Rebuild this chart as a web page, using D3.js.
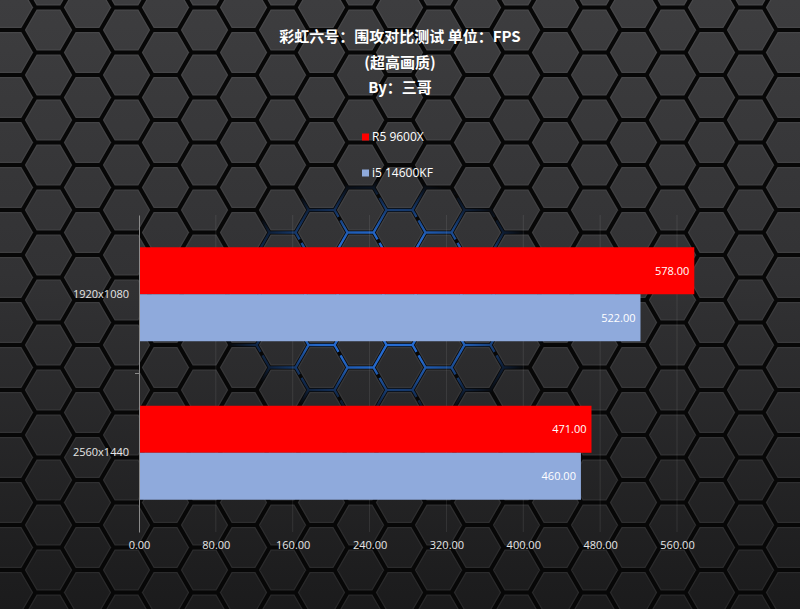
<!DOCTYPE html>
<html><head><meta charset="utf-8">
<script src="https://cdn.jsdelivr.net/npm/d3@7"></script>
<style>html,body{margin:0;padding:0;background:#222;}svg{display:block;}</style>
</head><body>
<svg id="c" width="800" height="609"></svg>
<script>
const titleLines = ["彩虹六号：围攻对比测试 单位：FPS", "(超高画质)", "By：三哥"];
const categories = ["1920x1080", "2560x1440"];
const seriesNames = ["R5 9600X", "i5 14600KF"];
const seriesColors = ["#ff0000", "#8faadc"];
const r5Values = [578, 471];
const i5Values = [522, 460];
const xTicks = [0, 80, 160, 240, 320, 400, 480, 560];

const W = 800, H = 609;
const svg = d3.select("#c");
const defs = svg.append("defs");

// background gradient
const bg = defs.append("linearGradient").attr("id","bgGrad").attr("x1",0).attr("y1",0).attr("x2",0).attr("y2",1);
bg.append("stop").attr("offset","0%").attr("stop-color","#3d3d3f");
bg.append("stop").attr("offset","45%").attr("stop-color","#323234");
bg.append("stop").attr("offset","100%").attr("stop-color","#1b1b1c");
svg.append("rect").attr("width",W).attr("height",H).attr("fill","url(#bgGrad)");

// hexagon pattern
const s = 26, colStep = 39, rowStep = 45, ox = 9.5, oy = 52.5;
function hexPath(cx, cy) {
  const pts = d3.range(6).map(i => {
    const a = Math.PI/3*i;
    return [cx + s*Math.cos(a), cy + s*Math.sin(a)];
  });
  return "M" + pts.map(p => p.join(",")).join("L") + "Z";
}
const hexes = [];
for (let c = -1; c < W/colStep + 2; c++) {
  for (let r = -2; r < H/rowStep + 2; r++) {
    hexes.push([ox + c*colStep, oy + r*rowStep + (c % 2 ? -rowStep/2 : 0)]);
  }
}
const hexD = hexes.map(h => hexPath(h[0], h[1])).join("");
svg.append("path").attr("d", hexD).attr("fill","none")
  .attr("stroke","rgba(255,255,255,0.06)").attr("stroke-width",6.5);
svg.append("path").attr("d", hexD).attr("fill","none")
  .attr("stroke","#070707").attr("stroke-width",4).attr("stroke-linejoin","round");

// blue glow in centre
const rg = defs.append("radialGradient").attr("id","glowGrad")
  .attr("cx",0.5).attr("cy",0.5).attr("r",0.5);
rg.append("stop").attr("offset","0%").attr("stop-color","#fff").attr("stop-opacity",1);
rg.append("stop").attr("offset","55%").attr("stop-color","#fff").attr("stop-opacity",0.85);
rg.append("stop").attr("offset","100%").attr("stop-color","#fff").attr("stop-opacity",0);
defs.append("mask").attr("id","glowMask")
  .append("ellipse").attr("cx",385).attr("cy",300).attr("rx",170).attr("ry",120).attr("fill","url(#glowGrad)");
svg.append("path").attr("d", hexD).attr("fill","none")
  .attr("stroke","#2a78ea").attr("stroke-width",2.4).attr("stroke-dasharray","18 4 8 6")
  .attr("mask","url(#glowMask)");

// title
const title = svg.append("g").attr("font-family","'Noto Sans CJK SC', sans-serif")
  .attr("font-weight","bold").attr("font-size",15).attr("fill","#ffffff").attr("text-anchor","middle");
[42, 68, 93].forEach((y, i) => title.append("text").attr("x",400).attr("y",y).text(titleLines[i]));

// legend
const legend = svg.append("g").attr("font-family","'Open Sans', 'Noto Sans', sans-serif").attr("font-size",12);
[137, 173].forEach((y, i) => {
  legend.append("rect").attr("x",362).attr("y",y-3.5).attr("width",7).attr("height",7).attr("fill",seriesColors[i]);
  legend.append("text").attr("x",372).attr("y",y).attr("dy","0.35em").attr("fill","#ffffff").text(seriesNames[i]);
});

// scales
const x = d3.scaleLinear().domain([0, 560]).range([139, 677]);
const y0 = d3.scaleBand().domain(categories).range([215, 532]).paddingInner(0.407).paddingOuter(0.2035);
const y1 = d3.scaleBand().domain(seriesNames).range([0, y0.bandwidth()]);

// gridlines
svg.append("g").selectAll("line").data(xTicks.slice(1)).join("line")
  .attr("x1", d => x(d)).attr("x2", d => x(d)).attr("y1",215).attr("y2",532)
  .attr("stroke","rgba(255,255,255,0.09)").attr("stroke-width",1);

// bars
const data = categories.map((c, i) => ({cat: c, vals: [r5Values[i], i5Values[i]]}));
const g = svg.append("g");
data.forEach(d => {
  d.vals.forEach((v, j) => {
    const yy = y0(d.cat) + y1(seriesNames[j]);
    g.append("rect").attr("x", x(0)).attr("y", yy).attr("width", x(v) - x(0)).attr("height", y1.bandwidth())
      .attr("fill", seriesColors[j]);
    g.append("text").attr("x", x(v) - 5).attr("y", yy + y1.bandwidth()/2).attr("dy","0.35em")
      .attr("text-anchor","end").attr("font-family","'Open Sans', 'Noto Sans', sans-serif")
      .attr("font-size",11).attr("fill","#ffffff").text(v.toFixed(2));
  });
});

// y axis
const yAxis = svg.append("g").attr("transform", `translate(${x(0)},0)`)
  .call(d3.axisLeft(y0).tickSize(0).tickSizeOuter(0).tickPadding(10));
yAxis.select(".domain").attr("stroke","#8a8a8a");
yAxis.selectAll("text").attr("font-family","'Open Sans', 'Noto Sans', sans-serif").attr("font-size",11).attr("fill","#e6e6e6");
const bounds = [y0(categories[1]) - y0.step()*y0.paddingInner()/2];
yAxis.selectAll("line.bt").data(bounds).join("line").attr("class","bt")
  .attr("x1",-4).attr("x2",0).attr("y1",d=>d).attr("y2",d=>d).attr("stroke","#8a8a8a");

// x axis labels
const xAxis = svg.append("g").attr("transform","translate(0,532)")
  .call(d3.axisBottom(x).tickValues(xTicks).tickSize(0).tickPadding(9).tickFormat(d => d.toFixed(2)));
xAxis.select(".domain").remove();
xAxis.selectAll("text").attr("font-family","'Open Sans', 'Noto Sans', sans-serif").attr("font-size",11).attr("fill","#e6e6e6");
</script>
</body></html>
